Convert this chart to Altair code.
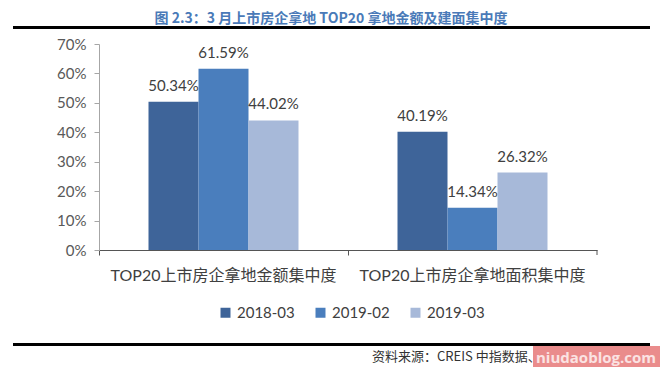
import altair as alt
import pandas as pd

categories = ["TOP20上市房企拿地金额集中度", "TOP20上市房企拿地面积集中度"]
series = ["2018-03", "2019-02", "2019-03"]
amount_values = [50.34, 61.59, 44.02]
area_values = [40.19, 14.34, 26.32]
y_ticks = [0, 10, 20, 30, 40, 50, 60, 70]
colors = ["#3e6499", "#4a7ebd", "#a7b9d9"]

title_text = "图 2.3：3 月上市房企拿地 TOP20 拿地金额及建面集中度"
source_text = "资料来源：CREIS 中指数据、"
watermark_text = "niudaoblog.com"

rows = []
for cat, vals in zip(categories, [amount_values, area_values]):
    for s, v in zip(series, vals):
        rows.append({"cat": cat, "series": s, "value": v, "label": f"{v:.2f}%"})
df = pd.DataFrame(rows)
one = pd.DataFrame([{"k": 1}])

FONT = "Lato, Noto Sans CJK SC"
CJK = "Noto Sans CJK SC"
W, H = 498, 206

x_enc = alt.X("cat:N", sort=categories,
              scale=alt.Scale(paddingInner=0, paddingOuter=0),
              axis=alt.Axis(title=None, labelFontSize=16, labelColor="#404040",
                            labelFont=FONT, labelPadding=12, bandPosition=0,
                            labelLimit=400, labelOverlap=False,
                            domainColor="#555555", tickColor="#555555",
                            tickSize=5, labelAngle=0, grid=False))
y_enc = alt.Y("value:Q", scale=alt.Scale(domain=[0, 70], nice=False),
              axis=alt.Axis(title=None, values=y_ticks, labelExpr="datum.value + '%'",
                            labelOverlap=False,
                            labelFontSize=15, labelColor="#595959", labelFont=FONT,
                            domainColor="#a6a6a6", tickColor="#a6a6a6", tickSize=5,
                            labelPadding=8, grid=False))
xo = alt.XOffset("series:N", sort=series,
                 scale=alt.Scale(paddingInner=0, paddingOuter=0.99))

bars = alt.Chart(df).mark_bar().encode(
    x=x_enc, y=y_enc, xOffset=xo,
    color=alt.Color("series:N", sort=series,
                    scale=alt.Scale(domain=series, range=colors),
                    legend=alt.Legend(title=None, orient="none", direction="horizontal",
                                      legendX=119, legendY=261, symbolType="square",
                                      symbolSize=100, symbolStrokeWidth=0,
                                      labelFontSize=15, labelColor="#404040",
                                      labelFont=FONT, columnPadding=18, labelOffset=4)),
)

labels = alt.Chart(df).mark_text(fontSize=15, color="#404040", font=FONT,
                                 baseline="alphabetic", dy=-11).encode(
    x=x_enc, y=y_enc, xOffset=xo, text="label:N")

end_tick = alt.Chart(one).mark_rule(color="#555555").encode(
    x=alt.value(W), y=alt.value(H), y2=alt.value(H + 5))

title = alt.Chart(one).mark_text(text=title_text, fontSize=14, fontWeight="bold",
                                 color="#4a7ab8", font=CJK,
                                 align="center", baseline="middle").encode(
    x=alt.value(232), y=alt.value(-25))

top_line = alt.Chart(one).mark_rule(color="#000000", strokeWidth=3).encode(
    x=alt.value(-86), x2=alt.value(551), y=alt.value(-16.5))
bottom_line = alt.Chart(one).mark_rule(color="#000000", strokeWidth=3).encode(
    x=alt.value(-86), x2=alt.value(551), y=alt.value(300.5))

source = alt.Chart(one).mark_text(text=source_text, fontSize=13, color="#333333",
                                  font=CJK, fontWeight="normal",
                                  align="left", baseline="middle").encode(
    x=alt.value(273), y=alt.value(313))

wm_box = alt.Chart(one).mark_rect(color="#ea8c8c").encode(
    x=alt.value(434), x2=alt.value(570), y=alt.value(302), y2=alt.value(326))
wm_text = alt.Chart(one).mark_text(text=watermark_text, fontSize=15, fontWeight="bold",
                                   color="#fbe3e3", font="Open Sans",
                                   align="left", baseline="middle").encode(
    x=alt.value(437), y=alt.value(314))

chart = alt.layer(bars, labels, end_tick, title, top_line, bottom_line,
                  source, wm_box, wm_text).properties(
    width=W, height=H,
    autosize=alt.AutoSizeParams(type="none"),
    padding={"left": 91, "top": 36, "right": 63, "bottom": 117},
    background="white",
).configure_view(stroke=None)

chart.save("out.html", embed_options={"renderer": "svg", "actions": False})
